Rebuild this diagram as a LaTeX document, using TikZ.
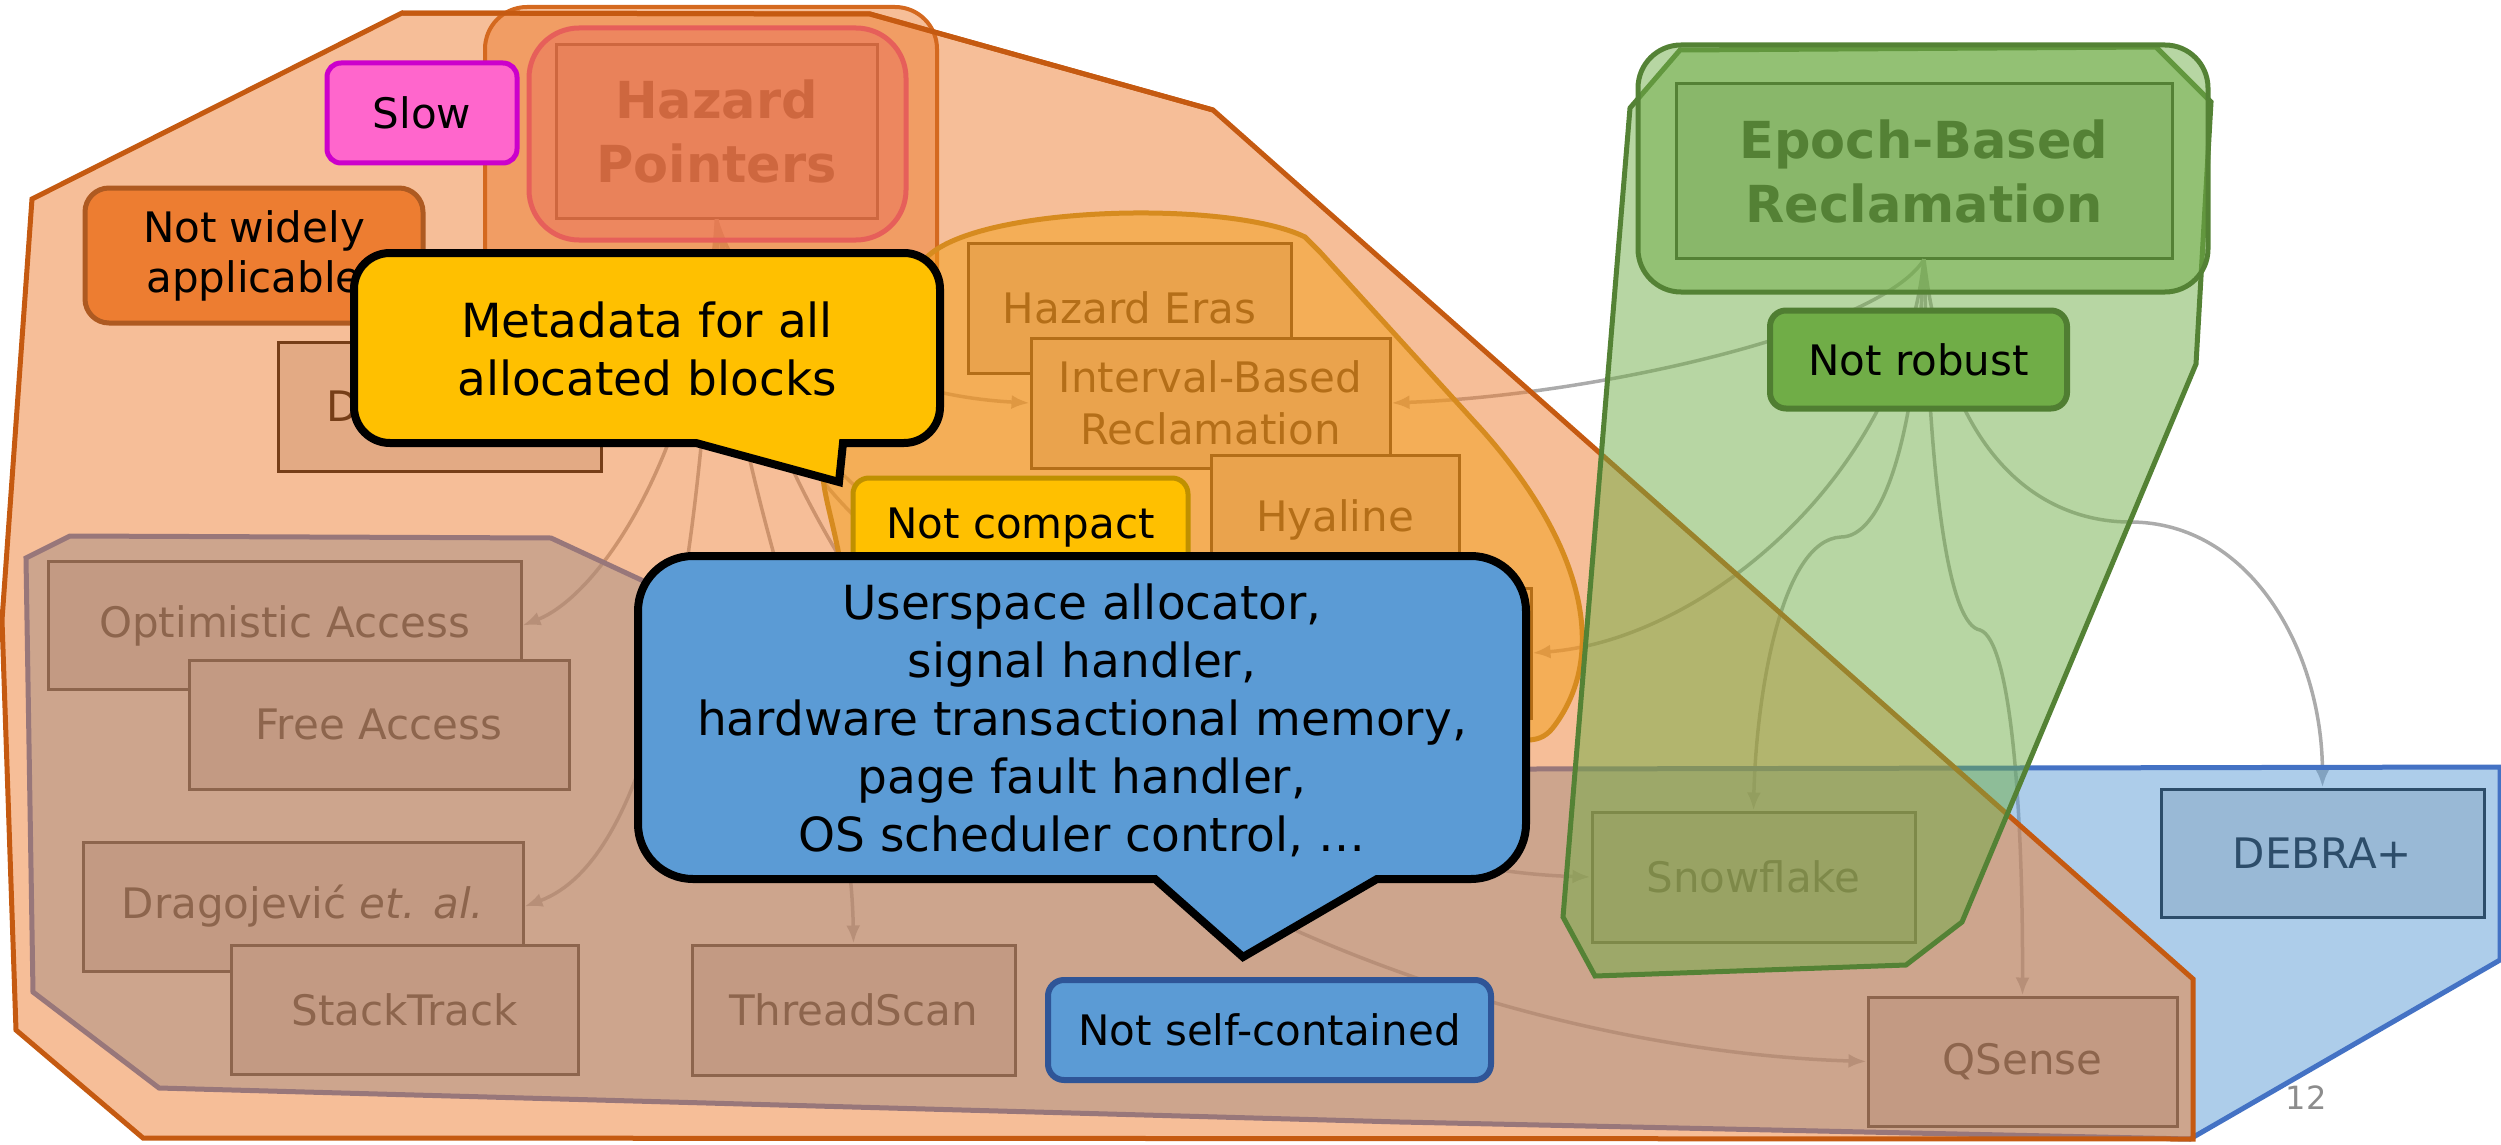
\documentclass[tikz,border=0pt]{standalone}
\usepackage{fontspec}
\setmainfont{DejaVu Sans}
\usetikzlibrary{arrows.meta}

\definecolor{baseGray}{HTML}{D9D9D9}
\definecolor{regOrange}{HTML}{ED7D31}
\definecolor{regOrangeLine}{HTML}{C55A11}
\definecolor{regBlue}{HTML}{5B9BD5}
\definecolor{regBlueLine}{HTML}{4472C4}
\definecolor{regGreen}{HTML}{70AD47}
\definecolor{regGreenLine}{HTML}{548235}
\definecolor{blobFill}{RGB}{242,158,24}
\definecolor{blobLine}{RGB}{214,139,31}
\definecolor{hpLine}{RGB}{212,105,31}
\definecolor{redFill}{RGB}{235,114,91}
\definecolor{redLine}{RGB}{230,95,90}
\definecolor{arrowGray}{RGB}{171,171,171}
\definecolor{slowFill}{HTML}{FF66CC}
\definecolor{slowLine}{HTML}{CC00CC}
\definecolor{nwaLine}{HTML}{AE5A21}
\definecolor{gold}{HTML}{FFC000}
\definecolor{goldLine}{HTML}{BF9000}
\definecolor{robLine}{HTML}{507E32}
\definecolor{scLine}{HTML}{2F5597}
\definecolor{pageNum}{RGB}{140,140,140}

\begin{document}
\begin{tikzpicture}[x=1pt,y=-1pt,
  methodbox/.style={draw=black, line width=3pt, fill=baseGray, inner sep=0pt,
    align=center, font=\fontsize{42}{52}\selectfont},
  titlebox/.style={methodbox, font=\fontsize{51}{64}\selectfont\bfseries},
  regionfill/.style={line width=5pt, fill opacity=0.5},
  arrowline/.style={draw=arrowGray, line width=3.5pt, -{Latex[length=18pt,width=14pt]}},
  labelbox/.style={line width=5pt, rounded corners=16pt, inner sep=0pt,
    align=center, font=\fontsize{42}{50}\selectfont},
  calloutline/.style={draw=black, line width=8pt, line join=miter},
  callouttext/.style={align=center, inner sep=0pt, font=\fontsize{47}{58}\selectfont}
]
\useasboundingbox (0,0) rectangle (2501,1145);

% ---- reclamation schemes (drawn first, tinted by the regions laid over them)
\node[methodbox, minimum width=473pt, minimum height=128pt] (opt) at (284.5,625.5) {Optimistic Access};
\node[methodbox, minimum width=380pt, minimum height=129pt] (free) at (379,724.5) {Free Access};
\node[methodbox, minimum width=440pt, minimum height=129pt] (drag) at (303,906.5) {Dragojević \textit{et. al.}};
\node[methodbox, minimum width=347pt, minimum height=129pt] (stack) at (404.5,1009.5) {StackTrack};
\node[methodbox, minimum width=323pt, minimum height=130pt] (thread) at (853.5,1010) {ThreadScan};
\node[methodbox, minimum width=323pt, minimum height=129pt, text width=226pt, align=left] (dbox) at (439.5,406.5) {D};
\node[methodbox, minimum width=323pt, minimum height=130pt] (he) at (1129.5,308) {Hazard Eras};
\node[methodbox, minimum width=359pt, minimum height=130pt] (ibr) at (1210.5,403) {Interval-Based\\Reclamation};
\node[methodbox, minimum width=248pt, minimum height=130pt] (hya) at (1335,520) {Hyaline};
\node[methodbox, minimum width=323pt, minimum height=130pt] (hid) at (1369.5,653) {};
\node[methodbox, minimum width=323pt, minimum height=130pt] (snow) at (1753.5,877) {Snowflake};
\node[methodbox, minimum width=309pt, minimum height=129pt] (qsense) at (2022.5,1061.5) {QSense};
\node[methodbox, minimum width=323pt, minimum height=128pt] (debra) at (2322.5,853) {DEBRA+};
\node[titlebox, minimum width=321pt, minimum height=173pt] (hp) at (716.5,131.5) {Hazard\\Pointers};
\node[titlebox, minimum width=496pt, minimum height=174pt] (ebr) at (1924,171) {Epoch-Based\\Reclamation};

% ---- derivation arrows
\draw[arrowline] (hp.south) .. controls (750,330) and (880,395) .. (ibr.west);
\draw[arrowline] (hp.south) .. controls (700,450) and (600,595) .. (opt.east);
\draw[arrowline] (hp.south) .. controls (700,600) and (650,860) .. (drag.east);
\draw[arrowline] (hp.south) .. controls (725,500) and (850,720) .. (thread.north);
\draw[arrowline] (hp.south) .. controls (745,380) and (790,480) .. (860,590)
  .. controls (1050,880) and (1500,1050) .. (qsense.west);
\draw[arrowline] (hp.south) .. controls (750,390) and (800,470) .. (880,540)
  .. controls (1100,740) and (1350,870) .. (snow.west);
\draw[arrowline] (hp.south) .. controls (755,380) and (820,470) .. (900,520)
  .. controls (1000,580) and (1100,640) .. (hid.west);
\draw[arrowline] (ebr.south) .. controls (1880,330) and (1600,395) .. (ibr.east);
\draw[arrowline] (ebr.south) .. controls (1900,480) and (1700,640) .. (hid.east);
\draw[arrowline] (ebr.south) .. controls (1915,450) and (1880,537) .. (1841,537)
  .. controls (1780,540) and (1756,700) .. (snow.north);
\draw[arrowline] (ebr.south) .. controls (1930,500) and (1950,625) .. (1980,630)
  .. controls (2010,640) and (2023,800) .. (qsense.north);
\draw[arrowline] (ebr.south) .. controls (1950,480) and (2060,522) .. (2130,522)
  .. controls (2250,522) and (2322,650) .. (debra.north);

% ---- regions
% not self-contained
\path[regionfill, draw=regBlueLine, fill=regBlue]
  (70,536) -- (551,538) -- (1050,770) -- (2500,767) -- (2500,960) -- (2190,1139)
  -- (1400,1122) -- (159,1088) -- (33,992) -- (26,558) -- cycle;
% not widely applicable
\path[regionfill, draw=regOrangeLine, fill=regOrange]
  (402,13) -- (870,14) -- (1213,110) -- (2193,979) -- (2193,1139) -- (143,1138)
  -- (16,1030) -- (2,620) -- (32,199) -- cycle;
% slow
\draw[draw=hpLine, line width=4pt, fill=regOrange, fill opacity=0.5, rounded corners=42pt]
  (485,7) rectangle (937,400);
\draw[draw=redLine, line width=5pt, fill=redFill, fill opacity=0.5, rounded corners=50pt]
  (529,28) rectangle (906,240);
\draw[regOrangeLine, line width=5pt, line join=miter] (402,13) -- (870,14) -- (1213,110);
% not compact
\path[regionfill, draw=blobLine, fill=blobFill]
  (927,257) .. controls (980,205) and (1230,200) .. (1305,237) -- (1320,252)
  -- (1482,430) .. controls (1580,540) and (1610,650) .. (1555,725)
  .. controls (1548,735) and (1540,740) .. (1527,740) -- (880,740)
  .. controls (860,650) and (845,590) .. (838,550)
  .. controls (830,510) and (822,490) .. (822,460)
  .. controls (822,360) and (880,290) .. (927,257) -- cycle;
% not robust
\path[regionfill, draw=regGreenLine, fill=regGreen]
  (1680,50) -- (2156,47) -- (2211,102) -- (2196,364) -- (1962,922) -- (1906,965)
  -- (1595,976) -- (1563,917) -- (1630,108) -- cycle;
\draw[regionfill, draw=regGreenLine, fill=regGreen, rounded corners=43pt]
  (1638,45) rectangle (2208,292);

% ---- drawbacks
\node[labelbox, draw=slowLine, fill=slowFill, minimum width=190pt, minimum height=100pt,
  rounded corners=14pt] (slow) at (422,113) {Slow};
\node[labelbox, draw=nwaLine, fill=regOrange, minimum width=338pt, minimum height=135pt,
  rounded corners=24pt] (nwa) at (254,255.5) {Not widely\\applicable};
\node[labelbox, draw=goldLine, fill=gold, minimum width=335pt, minimum height=100pt]
  (ncomp) at (1020.5,528) {Not compact};
\node[labelbox, draw=robLine, fill=regGreen, line width=6pt, minimum width=297pt,
  minimum height=98pt] (nrob) at (1918.5,359.5) {Not robust};
\node[labelbox, draw=scLine, fill=regBlue, line width=6pt, minimum width=443pt,
  minimum height=100pt] (nsc) at (1269.5,1030) {Not self-contained};

% ---- callouts
\path[calloutline, fill=gold]
  (354,289) .. controls (354,269.1) and (370.1,253) .. (390,253)
  -- (904,253) .. controls (923.9,253) and (940,269.1) .. (940,289)
  -- (940,407) .. controls (940,426.9) and (923.9,443) .. (904,443)
  -- (843,443) -- (839,482) -- (696,443)
  -- (390,443) .. controls (370.1,443) and (354,426.9) .. (354,407)
  -- cycle;
\node[callouttext] (meta) at (647,349) {Metadata for all\\allocated blocks};

\path[calloutline, fill=regBlue]
  (638,611) .. controls (638,580.6) and (662.6,556) .. (693,556)
  -- (1471,556) .. controls (1501.4,556) and (1526,580.6) .. (1526,611)
  -- (1526,824) .. controls (1526,854.4) and (1501.4,879) .. (1471,879)
  -- (1377,879) -- (1243,957) -- (1155,879)
  -- (693,879) .. controls (662.6,879) and (638,854.4) .. (638,824)
  -- cycle;
\node[callouttext] (mech) at (1082,720) {Userspace allocator,\\signal handler,\\hardware transactional memory,\\page fault handler,\\OS scheduler control, \dots};

\node[text=pageNum, inner sep=0pt, font=\fontsize{32}{38}\selectfont] (pnum) at (2306,1098) {12};
\end{tikzpicture}
\end{document}
